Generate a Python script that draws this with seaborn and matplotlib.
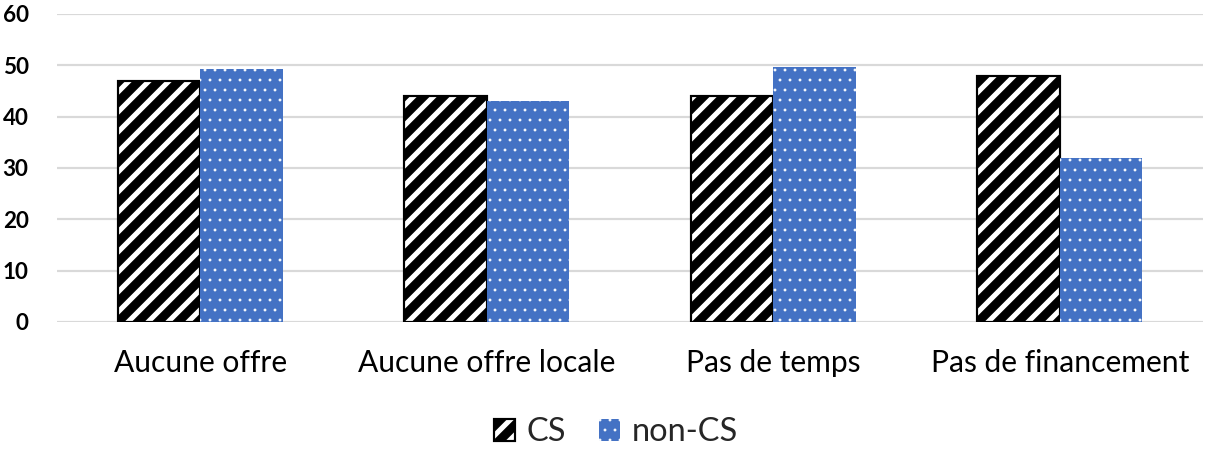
import matplotlib
matplotlib.use("Agg")
import matplotlib.pyplot as plt
import seaborn as sns
import pandas as pd

categories = ["Aucune offre", "Aucune offre locale", "Pas de temps", "Pas de financement"]
cs_values = [47, 44, 44, 48]
non_cs_values = [49.3, 43, 49.6, 32]
series_names = ["CS", "non-CS"]
y_ticks = [0, 10, 20, 30, 40, 50, 60]

df = pd.DataFrame({
    "categorie": categories * 2,
    "valeur": cs_values + non_cs_values,
    "groupe": [series_names[0]] * len(categories) + [series_names[1]] * len(categories),
})

sns.set_theme(style="white")
plt.rcParams["font.family"] = ["Lato", "DejaVu Sans"]

DPI = 120
fig = plt.figure(figsize=(1205 / DPI, 453 / DPI), dpi=DPI)
ax = fig.add_axes([57 / 1205, 1 - 322 / 453, 1 - 57 / 1205 - 2 / 1205, (322 - 14) / 453])

blue = "#4472C4"
sns.barplot(data=df, x="categorie", y="valeur", hue="groupe",
            palette={"CS": "white", "non-CS": blue},
            width=0.575, gap=0, saturation=1, legend=False, ax=ax, zorder=3)

# striped black/white bars for CS, dotted blue bars for non-CS
styles = {
    0: dict(facecolor="white", edgecolor="black", hatch="//", linewidth=1.3, hlw=5.4),
    1: dict(facecolor=blue, edgecolor="white", hatch="..", linewidth=0, hlw=0.5),
}
for i, cont in enumerate(ax.containers):
    st = styles[i]
    for p in cont.patches:
        p.set_facecolor(st["facecolor"])
        p.set_edgecolor(st["edgecolor"])
        p.set_hatch(st["hatch"])
        p.set_linewidth(st["linewidth"])
        if hasattr(p, "set_hatch_linewidth"):
            p.set_hatch_linewidth(st["hlw"])

ax.set_ylim(0, 60)
ax.set_yticks(y_ticks)
ax.set_yticklabels([str(t) for t in y_ticks], fontsize=13.5, fontweight="bold")
ax.set_xlim(-0.5, len(categories) - 0.5)
ax.set_xlabel("")
ax.set_ylabel("")
ax.tick_params(axis="x", labelsize=18, pad=16, length=0, colors="black")
ax.tick_params(axis="y", pad=17, length=0, colors="black")
ax.yaxis.grid(True, color="#d9d9d9", linewidth=1.3, zorder=0)
ax.set_axisbelow(True)
for s in ax.spines.values():
    s.set_visible(False)

handles = [ax.containers[0].patches[0], ax.containers[1].patches[0]]
leg = fig.legend(handles, series_names, loc="center", bbox_to_anchor=(0.511, 0.046),
                 ncol=2, frameon=False, fontsize=19.5, handlelength=0.66, handleheight=0.66,
                 handletextpad=0.35, columnspacing=1.0, borderpad=0)
for h, i in zip(leg.legend_handles, [0, 1]):
    st = styles[i]
    h.set_facecolor(st["facecolor"])
    h.set_edgecolor(st["edgecolor"])
    h.set_hatch(st["hatch"])
    h.set_linewidth(st["linewidth"])
    if hasattr(h, "set_hatch_linewidth"):
        h.set_hatch_linewidth(st["hlw"])

fig.savefig("out.png", dpi=DPI)
